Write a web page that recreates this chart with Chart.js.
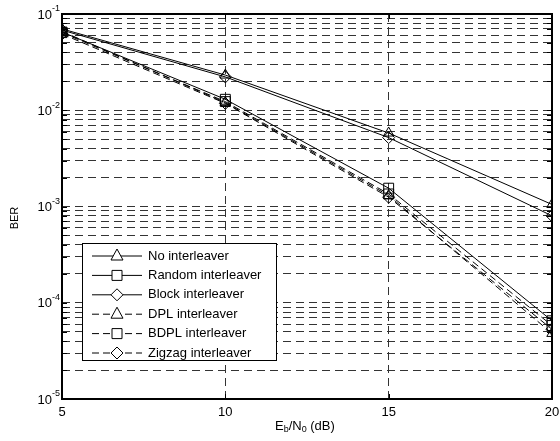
<!DOCTYPE html>
<html>
<head>
<meta charset="utf-8">
<script src="https://cdn.jsdelivr.net/npm/chart.js@4/dist/chart.umd.min.js"></script>
<style>
  body { margin: 0; background: #fff; }
  #wrap { width: 560px; height: 441px; }
</style>
</head>
<body>
<div id="wrap"><canvas id="chart" width="560" height="441"></canvas></div>
<script>
const ebno = [5, 10, 15, 20];
const noInter = [0.070, 0.0232, 0.0058, 0.00105];
const randomInter = [0.065, 0.0130, 0.00155, 0.000065];
const blockInter = [0.068, 0.0222, 0.0052, 0.00080];
const dplInter = [0.066, 0.0120, 0.00130, 0.000048];
const bdplInter = [0.064, 0.0123, 0.00135, 0.000058];
const zigzagInter = [0.062, 0.0118, 0.00125, 0.000053];
const xTicks = [5, 10, 15, 20];
const yExponents = [-1, -2, -3, -4, -5];

const FONT = "Liberation Sans, Arial, sans-serif";
const DASH = [7, 4];

function series(label, values, style, dashed) {
  return {
    label: label,
    data: ebno.map((x, i) => ({ x: x, y: values[i] })),
    borderColor: "#000",
    borderWidth: 1,
    borderDash: dashed ? DASH : [],
    pointStyle: style,
    pointRadius: style === "rect" ? 7 : 6,
    pointBorderColor: "#000",
    pointBackgroundColor: "rgba(0,0,0,0)",
    pointBorderWidth: 1,
    tension: 0,
    fill: false,
  };
}

const datasets = [
  series("No interleaver", noInter, "triangle", false),
  series("Random interleaver", randomInter, "rect", false),
  series("Block interleaver", blockInter, "rectRot", false),
  series("DPL interleaver", dplInter, "triangle", true),
  series("BDPL interleaver", bdplInter, "rect", true),
  series("Zigzag interleaver", zigzagInter, "rectRot", true),
];

function marker(ctx, style, x, y) {
  ctx.beginPath();
  if (style === "triangle") {
    ctx.moveTo(x, y - 7);
    ctx.lineTo(x + 6, y + 4);
    ctx.lineTo(x - 6, y + 4);
    ctx.closePath();
  } else if (style === "rect") {
    ctx.rect(x - 5, y - 5, 10, 10);
  } else {
    ctx.moveTo(x, y - 6);
    ctx.lineTo(x + 6, y);
    ctx.lineTo(x, y + 6);
    ctx.lineTo(x - 6, y);
    ctx.closePath();
  }
  ctx.fillStyle = "#fff";
  ctx.fill();
  ctx.stroke();
}

const decorations = {
  id: "decorations",
  afterDraw(chart) {
    const ctx = chart.ctx;
    const a = chart.chartArea;
    const xs = chart.scales.x;
    const ys = chart.scales.y;
    ctx.save();
    ctx.strokeStyle = "#000";
    ctx.lineWidth = 1;
    ctx.setLineDash([]);

    // inward tick marks
    ys.ticks.forEach(t => {
      const py = Math.round(ys.getPixelForValue(t.value)) + 0.5;
      ctx.beginPath();
      ctx.moveTo(a.left, py); ctx.lineTo(a.left + 5, py);
      ctx.moveTo(a.right, py); ctx.lineTo(a.right - 5, py);
      ctx.stroke();
    });
    xTicks.forEach(v => {
      const px = Math.round(xs.getPixelForValue(v)) + 0.5;
      ctx.beginPath();
      ctx.moveTo(px, a.bottom); ctx.lineTo(px, a.bottom - 5);
      ctx.moveTo(px, a.top); ctx.lineTo(px, a.top + 5);
      ctx.stroke();
    });

    // frame
    ctx.lineWidth = 2;
    ctx.strokeRect(a.left, a.top, a.right - a.left, a.bottom - a.top);

    // y tick labels 10^n
    ctx.fillStyle = "#000";
    ctx.textBaseline = "middle";
    yExponents.forEach(e => {
      const py = ys.getPixelForValue(Math.pow(10, e));
      ctx.font = "13px " + FONT;
      ctx.textAlign = "right";
      ctx.fillText("10", a.left - 10, py + 1);
      ctx.font = "9px " + FONT;
      ctx.textAlign = "left";
      ctx.fillText(String(e), a.left - 10, py - 5);
    });

    // x tick labels
    ctx.font = "13px " + FONT;
    ctx.textAlign = "center";
    xTicks.forEach(v => {
      ctx.fillText(String(v), xs.getPixelForValue(v), a.bottom + 13);
    });

    // x title E_b/N_0 (dB)
    let tx = 275;
    const ty = 426;
    const parts = [["E", 0, 13], ["b", 4, 9], ["/N", 0, 13], ["0", 4, 9], [" (dB)", 0, 13]];
    ctx.textAlign = "left";
    parts.forEach(p => {
      ctx.font = p[2] + "px " + FONT;
      ctx.fillText(p[0], tx, ty + p[1]);
      tx += ctx.measureText(p[0]).width;
    });

    // y title
    ctx.save();
    ctx.translate(15, 218);
    ctx.rotate(-Math.PI / 2);
    ctx.font = "11px " + FONT;
    ctx.textAlign = "center";
    ctx.fillText("BER", 0, 0);
    ctx.restore();

    // legend
    const lx = 82, ly = 243, lw = 194, lh = 117;
    ctx.fillStyle = "#fff";
    ctx.fillRect(lx, ly, lw, lh);
    ctx.lineWidth = 1;
    ctx.strokeRect(lx + 0.5, ly + 0.5, lw, lh);
    chart.data.datasets.forEach((ds, i) => {
      const y = ly + 13 + i * 19.4;
      ctx.setLineDash(ds.borderDash);
      ctx.beginPath();
      ctx.moveTo(92, y); ctx.lineTo(142, y);
      ctx.stroke();
      ctx.setLineDash([]);
      marker(ctx, ds.pointStyle, 117, y);
      ctx.fillStyle = "#000";
      ctx.font = "13px " + FONT;
      ctx.textAlign = "left";
      ctx.fillText(ds.label, 148, y);
    });
    ctx.restore();
  }
};

new Chart(document.getElementById("chart"), {
  type: "line",
  data: { datasets: datasets },
  options: {
    responsive: false,
    animation: false,
    layout: { padding: { left: 62, right: 7, top: 14, bottom: 42 } },
    plugins: { legend: { display: false }, tooltip: { enabled: false } },
    scales: {
      x: {
        type: "linear",
        min: 5,
        max: 20,
        afterBuildTicks: s => { s.ticks = xTicks.map(v => ({ value: v })); },
        ticks: { display: false },
        grid: { color: "#333", lineWidth: 1, drawTicks: false },
        border: { display: false, dash: [8, 5] },
      },
      y: {
        type: "logarithmic",
        min: 1e-5,
        max: 1e-1,
        afterBuildTicks: s => {
          const t = [];
          for (let e = -5; e < -1; e++) {
            for (let m = 1; m <= 9; m++) t.push({ value: m * Math.pow(10, e) });
          }
          t.push({ value: 0.1 });
          s.ticks = t;
        },
        ticks: { display: false },
        grid: { color: "#333", lineWidth: 1, drawTicks: false },
        border: { display: false, dash: [8, 5] },
      },
    },
  },
  plugins: [decorations],
});
</script>
</body>
</html>
